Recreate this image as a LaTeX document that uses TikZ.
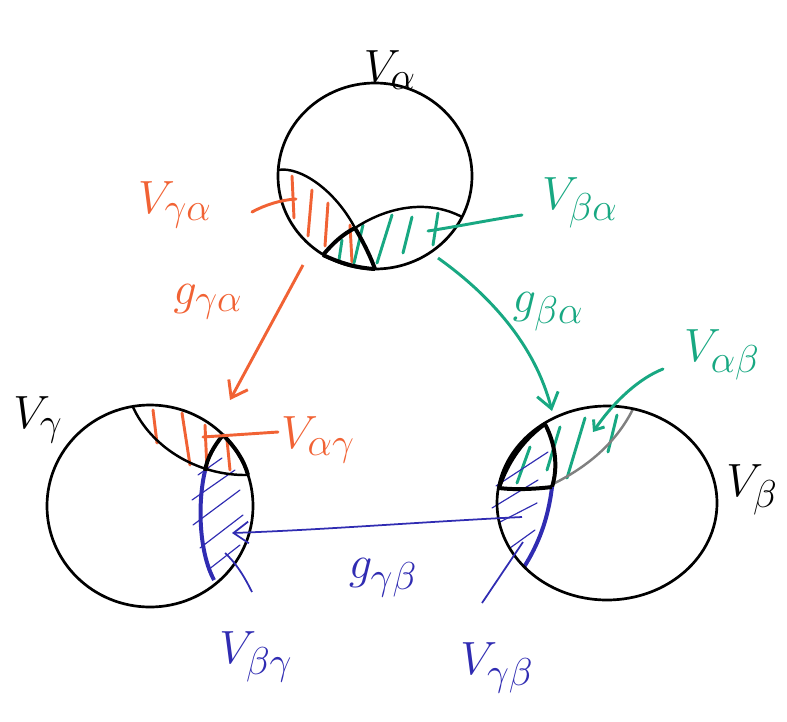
\documentclass[tikz,border=0pt]{standalone}
\usepackage{amsmath,amssymb}
\usepackage{xcolor}
\usepackage{tikz}
\usetikzlibrary{arrows.meta,calc}
\definecolor{inkorange}{RGB}{241,98,52}
\definecolor{inkgreen}{RGB}{24,168,130}
\definecolor{inkblue}{RGB}{48,44,178}

\begin{document}
\begin{tikzpicture}[
  x=0.03cm, y=-0.03cm,
  rim/.style={draw, line width=2.3pt},
  cut/.style={line width=2.1pt},
  bold/.style={line width=3.4pt},
  lab/.style={font=\Huge, scale=1.6, inner sep=0pt},
  ohatch/.style={inkorange, line width=2.5pt, line cap=round},
  ghatch/.style={inkgreen, line width=2.5pt, line cap=round},
  bhatch/.style={inkblue, line width=1pt, line cap=round},
  oarr/.style={inkorange, line width=2.5pt, -{Straight Barb[length=4.5mm, width=6.5mm]}},
  garr/.style={inkgreen, line width=2.5pt, -{Straight Barb[length=4.5mm, width=6.5mm]}},
  barr/.style={inkblue, line width=1.5pt, -{Straight Barb[length=4.5mm, width=6.5mm]}}]
\useasboundingbox (0,0) rectangle (787,721);
% centres of the three charts
\coordinate (ca) at (375,176);
\coordinate (cg) at (150,506);
\coordinate (cb) at (607,503);
% hatching
\foreach \xa/\ya/\xb/\yb in {292/176/294/218, 312/190/308/236, 328/203/325/246, 350/225/352/262,
    153/410/157/443, 182/413/190/465, 205/425/207/470, 227/440/230/470}
  \draw[ohatch] (\xa,\ya) -- (\xb,\yb);
\foreach \xa/\ya/\xb/\yb in {342/240/339/260, 363/225/354/263, 392/215/377/263, 412/217/403/253, 438/213/433/245,
    530/447/517/483, 560/427/547/470, 585/418/567/478, 617/415/608/452}
  \draw[ghatch] (\xa,\ya) -- (\xb,\yb);
\foreach \xa/\ya/\xb/\yb in {198/475/222/458, 192/500/235/470, 193/525/240/490, 200/548/243/515, 208/570/240/545,
    496/486/548/452, 492/508/538/480, 500/522/537/503, 510/548/535/530}
  \draw[bhatch] (\xa,\ya) -- (\xb,\yb);
% region borders, top chart
\draw[cut] (278,170) .. controls (300,166) and (335,190) .. (355,228);
\draw[bold] (355,228) .. controls (365,245) and (371,258) .. (375,269);
\draw[bold] (323,255) .. controls (333,243) and (343,234) .. (355,228);
\draw[cut] (355,228) .. controls (390,205) and (430,200) .. (462,217);
\draw[bold] (323,255) .. controls (340,263) and (357,268) .. (375,269);
% region borders, left chart
\draw[cut] (133,407) .. controls (150,445) and (195,476) .. (248,475);
\draw[bold] (223,435) .. controls (214,446) and (207,458) .. (205,471);
\draw[bold, inkblue] (205,471) .. controls (198,500) and (198,550) .. (214,580);
\draw[bold] (223,435) .. controls (235,447) and (244,460) .. (248,475);
% region borders, right chart
\draw[cut, gray] (633,409) .. controls (615,445) and (585,468) .. (553,484);
\draw[bold] (545,424) .. controls (556,445) and (558,468) .. (552,487);
\draw[bold, inkblue] (552,487) .. controls (548,520) and (538,545) .. (524,567);
\draw[bold] (499,488) .. controls (515,490) and (535,489) .. (552,487);
\draw[bold] (499,488) .. controls (508,460) and (525,438) .. (545,424);
% the charts
\draw[rim] (ca) ellipse [x radius=97, y radius=93];
\draw[rim] (cg) ellipse [x radius=103, y radius=101];
\draw[rim] (cb) ellipse [x radius=110, y radius=97];
% transition maps
\coordinate (ga0) at (303,265);
\coordinate (ga1) at (230,400);
\coordinate (gb0) at (438,258);
\coordinate (gb1) at (552,411);
\coordinate (gc0) at (522,517);
\coordinate (gc1) at (232,533);
\draw[oarr] (ga0) -- (ga1);
\draw[garr] (gb0) .. controls (490,295) and (535,345) .. (gb1);
\draw[barr] (gc0) .. controls (420,522) and (320,530) .. (gc1);
% labels
\node[lab] (nVa) at (390,70) {$V_\alpha$};
\node[lab] (nVg) at (38,420) {$V_\gamma$};
\node[lab] (nVb) at (752,490) {$V_\beta$};
\node[lab, inkorange] (nVga) at (175,205) {$V_{\gamma\alpha}$};
\node[lab, inkorange] (ngga) at (208,302) {$g_{\gamma\alpha}$};
\node[lab, inkorange] (nVag) at (318,440) {$V_{\alpha\gamma}$};
\node[lab, inkgreen] (nVba) at (580,203) {$V_{\beta\alpha}$};
\node[lab, inkgreen] (ngba) at (548,312) {$g_{\beta\alpha}$};
\node[lab, inkgreen] (nVab) at (722,355) {$V_{\alpha\beta}$};
\node[lab, inkblue] (nggb) at (383,578) {$g_{\gamma\beta}$};
\node[lab, inkblue] (nVbg) at (256,657) {$V_{\beta\gamma}$};
\node[lab, inkblue] (nVgb) at (497,668) {$V_{\gamma\beta}$};
% leaders
\coordinate (pga) at (252,212);
\coordinate (hga) at (296,199);
\coordinate (pba) at (522,215);
\coordinate (hba) at (428,231);
\coordinate (pab) at (663,369);
\coordinate (hab) at (593,432);
\coordinate (pag) at (278,432);
\coordinate (hag) at (203,437);
\coordinate (pbg) at (252,592);
\coordinate (hbg) at (225,553);
\coordinate (pgb) at (482,603);
\coordinate (hgb) at (523,542);
\draw[ohatch] (pga) .. controls (265,205) and (280,200) .. (hga);
\draw[ohatch] (hag) -- (pag);
\draw[ghatch] (hba) .. controls (460,226) and (495,219) .. (pba);
\draw[ghatch, -{Straight Barb[length=2.5mm, width=4mm]}] (pab) .. controls (640,378) and (615,400) .. (hab);
\draw[inkblue, line width=1.5pt] (hbg) .. controls (238,565) and (246,580) .. (pbg);
\draw[inkblue, line width=1.5pt] (hgb) -- (pgb);
\end{tikzpicture}
\end{document}
